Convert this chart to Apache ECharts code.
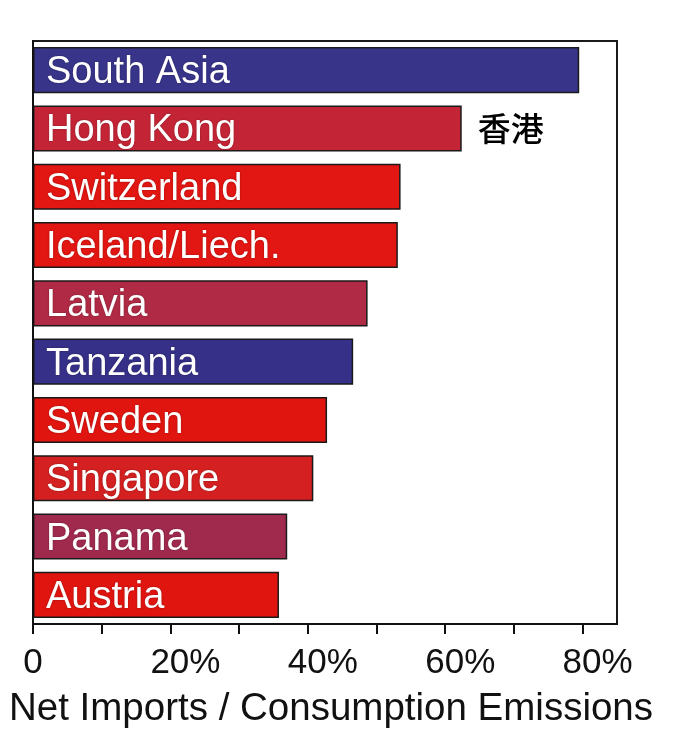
<!DOCTYPE html>
<html>
<head>
<meta charset="utf-8">
<script src="https://cdn.jsdelivr.net/npm/echarts@6/dist/echarts.min.js"></script>
<style>
html,body{margin:0;padding:0;background:#fff;}
#chart{width:681px;height:741px;}
</style>
</head>
<body>
<div id="chart"></div>
<script>
const categories = ['South Asia','Hong Kong','Switzerland','Iceland/Liech.','Latvia','Tanzania','Sweden','Singapore','Panama','Austria'];
const values = [79.5, 62.4, 53.5, 53.1, 48.7, 46.6, 42.8, 40.8, 37.0, 35.8];
const annotations = ['', '香港', '', '', '', '', '', '', '', ''];
const tickValues = [0,10,20,30,40,50,60,70,80];
const labelValues = [0,20,40,60,80];
const axisTitle = 'Net Imports / Consumption Emissions';

const barColors = ['#38348a','#c42536','#e21612','#e21612','#b02a45','#363088','#e01510','#d42020','#a02a4e','#e01510'];

const chart = echarts.init(document.getElementById('chart'), null, {renderer:'canvas'});
const font = 'Liberation Sans, Arial, Helvetica, sans-serif';

chart.setOption({
  animation: false,
  backgroundColor: '#fff',
  grid: {left: 33, right: 64, top: 41, bottom: 117, show: true, borderColor: '#1a1a1a', borderWidth: 2, backgroundColor: 'transparent'},
  xAxis: {
    type: 'value', min: 0, max: 85,
    axisLine: {show: true, lineStyle: {color: '#111', width: 2}},
    axisTick: {show: true, length: 10, inside: false, lineStyle: {color: '#111', width: 2}, customValues: tickValues},
    splitLine: {show: false},
    axisLabel: {
      customValues: labelValues,
      margin: 22,
      fontFamily: font, fontSize: 35, color: '#111',
      formatter: function(v){ return v === 0 ? '{z|0}' : '{p|' + v + '%}'; },
      rich: {
        z: {fontFamily: font, fontSize: 35, color: '#111'},
        p: {fontFamily: font, fontSize: 35, color: '#111', padding: [0, 0, 0, 30]}
      }
    },
    name: axisTitle, nameLocation: 'middle', nameGap: 66,
    nameTextStyle: {fontFamily: font, fontSize: 38.5, color: '#111', padding: [0,0,0,12]}
  },
  yAxis: {
    type: 'category', data: categories, inverse: true, z: 10,
    axisLine: {show: true, lineStyle: {color: '#111', width: 2}},
    axisTick: {show: false},
    axisLabel: {inside: true, margin: 13,
      formatter: '{a|{value}}',
      rich: {a: {fontFamily: font, fontSize: 38, color: '#fff', padding: [5, 0, 0, 0],
        textShadowColor: 'rgba(0,0,0,0.35)', textShadowBlur: 2}}
    }
  },
  series: [{
    type: 'bar',
    barCategoryGap: '21%',
    data: values.map((v, i) => ({
      value: v,
      itemStyle: {color: barColors[i]},
      label: annotations[i] ? {show: true, position: 'right', distance: 16, formatter: annotations[i],
        fontFamily: 'Noto Sans CJK SC', fontSize: 33, fontWeight: 500, color: '#000'} : {show: false}
    })),
    itemStyle: {borderColor: '#1a1a1a', borderWidth: 1.5}
  }]
});
</script>
</body>
</html>
